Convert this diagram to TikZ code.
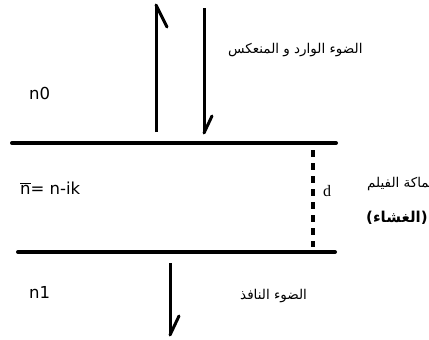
\documentclass[tikz,border=0pt]{standalone}
\usepackage{fontspec}
\setmainfont{DejaVu Sans}
\newfontfamily\arabicfont[Script=Arabic]{DejaVu Sans}
\newfontfamily\serifd{Liberation Serif}
\TeXXeTstate=1
\begin{document}
\begin{tikzpicture}[x=1pt,y=-1pt,
  layer/.style={line width=4pt,line cap=round},
  ray/.style={line width=3pt},
  barb/.style={line width=3pt,line cap=round},
  lbl/.style={inner sep=0pt,anchor=west,font=\fontsize{16.5}{19}\selectfont},
  ar/.style={inner sep=0pt,font=\arabicfont\fontsize{13.5}{15}\selectfont}]
\useasboundingbox[fill=white] (0,0) rectangle (429,340);
% interfaces
\coordinate (t1) at (12,143); \coordinate (t2) at (336,143);
\coordinate (b1) at (18,252); \coordinate (b2) at (335,252);
\draw[layer] (t1) -- (t2);
\draw[layer] (b1) -- (b2);
% incident / reflected / transmitted rays
\coordinate (u0) at (156,132); \coordinate (u1) at (156,5); \coordinate (ub) at (167,27);
\coordinate (d0) at (204,8); \coordinate (d1) at (204,133); \coordinate (db) at (212,116);
\coordinate (s0) at (170,263); \coordinate (s1) at (170,335); \coordinate (sb) at (179,316);
\draw[ray] (u0) -- (u1);
\draw[barb] (u1) -- (ub);
\draw[ray] (d0) -- (d1);
\draw[barb] (d1) -- (db);
\draw[ray] (s0) -- (s1);
\draw[barb] (s1) -- (sb);
% thickness
\coordinate (th0) at (313,150); \coordinate (th1) at (313,247);
\draw[line width=3.5pt,dash pattern=on 7pt off 6pt] (th0) -- (th1);
\node[inner sep=0pt,anchor=west,font=\serifd\fontsize{16}{18}\selectfont] (d) at (323,191) {d};
% labels
\node[lbl] (n0) at (29,93) {n0};
\node[lbl] (n) at (20,188) {$\overline{\mbox{n}}$= n-ik};
\node[lbl] (n1) at (29,292) {n1};
\node[ar,anchor=west] (inc) at (228,50) {\beginR الضوء الوارد و المنعكس\endR};
\node[ar,anchor=west] (tra) at (240,296) {\beginR الضوء النافذ\endR};
\node[ar,anchor=west] (thk) at (367,184) {\beginR سماكة الفيلم\endR};
\node[ar,anchor=west,font=\arabicfont\bfseries\fontsize{15}{17}\selectfont] (fil) at (366,218) {\beginR (الغشاء)\endR};
\end{tikzpicture}
\end{document}
